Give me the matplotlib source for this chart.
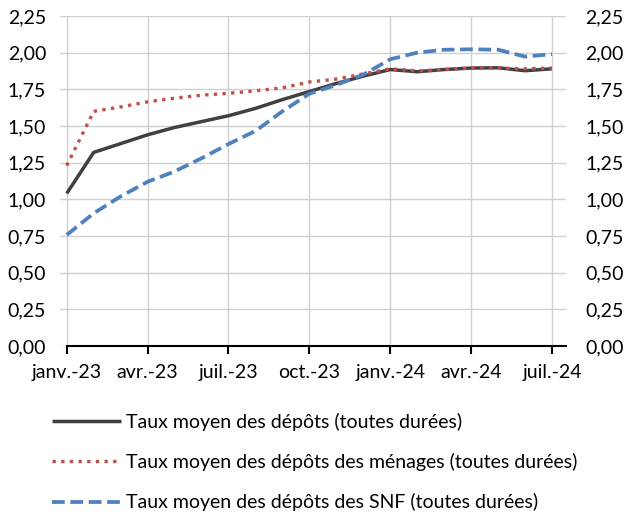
import numpy as np
import matplotlib.pyplot as plt
from matplotlib.ticker import FixedLocator, FuncFormatter

plt.rcParams['font.family'] = ['Lato', 'DejaVu Sans']

months = ['janv.-23', 'févr.-23', 'mars-23', 'avr.-23', 'mai-23', 'juin-23',
          'juil.-23', 'août-23', 'sept.-23', 'oct.-23', 'nov.-23', 'déc.-23',
          'janv.-24', 'févr.-24', 'mars-24', 'avr.-24', 'mai-24', 'juin-24',
          'juil.-24']

taux_total = [1.04, 1.32, 1.38, 1.44, 1.49, 1.53, 1.57, 1.62, 1.68, 1.735,
              1.79, 1.84, 1.885, 1.87, 1.885, 1.895, 1.897, 1.877, 1.89]
taux_menages = [1.23, 1.60, 1.63, 1.665, 1.69, 1.71, 1.723, 1.74, 1.76, 1.80,
                1.82, 1.855, 1.89, 1.876, 1.885, 1.895, 1.895, 1.89, 1.895]
taux_snf = [0.757, 0.905, 1.02, 1.12, 1.19, 1.28, 1.377, 1.466, 1.60, 1.72,
            1.78, 1.85, 1.955, 2.00, 2.02, 2.023, 2.02, 1.973, 1.99]

labels = ['Taux moyen des dépôts (toutes durées)',
          'Taux moyen des dépôts des ménages (toutes durées)',
          'Taux moyen des dépôts des SNF (toutes durées)']

x = np.arange(len(months))
fs = 14

fig = plt.figure(figsize=(6.27, 5.17), dpi=100)
ax = fig.add_axes([60 / 627, 1 - 346 / 517, 506 / 627, 330 / 517])

l1, = ax.plot(x, taux_total, color='#404040', lw=2.5, solid_capstyle='butt')
l2, = ax.plot(x, taux_menages, color='#c0504d', lw=2.4, ls=(0, (1, 1.6)))
l3, = ax.plot(x, taux_snf, color='#4f81bd', lw=2.7, ls=(0, (3.4, 1.5)))

ax.set_xlim(-0.25, 18.52)
ax.set_ylim(0, 2.25)
ticks = x[::3]
ax.xaxis.set_major_locator(FixedLocator(ticks))
ax.set_xticklabels([months[i] for i in ticks])
ax.set_yticks(np.arange(0, 2.26, 0.25))
fmt = FuncFormatter(lambda v, p: f'{v:.2f}'.replace('.', ','))
ax.yaxis.set_major_formatter(fmt)

ax.grid(True, color='#d0d0d0', lw=1)
ax.set_axisbelow(True)
for s in ['top', 'left', 'right']:
    ax.spines[s].set_visible(False)
ax.spines['bottom'].set_color('black')
ax.spines['bottom'].set_linewidth(1.5)
ax.spines['bottom'].set_bounds(0, 18.52)
ax.tick_params(axis='x', direction='out', length=6, width=1.5, labelsize=fs, pad=7)
ax.tick_params(axis='y', length=0, labelsize=fs, pad=10)

ax2 = ax.twinx()
ax2.set_ylim(ax.get_ylim())
ax2.set_yticks(np.arange(0, 2.26, 0.25))
ax2.yaxis.set_major_formatter(fmt)
ax2.tick_params(axis='y', length=0, labelsize=fs, pad=14)
for s in ['top', 'left', 'right', 'bottom']:
    ax2.spines[s].set_visible(False)

fig.legend([l1, l2, l3], labels, loc='upper left',
           bbox_to_anchor=(34 / 627, 1 - 395 / 517), frameon=False,
           fontsize=fs, handlelength=3.55, handletextpad=0.3, labelspacing=1.15)

fig.savefig('out.png', dpi=100)
